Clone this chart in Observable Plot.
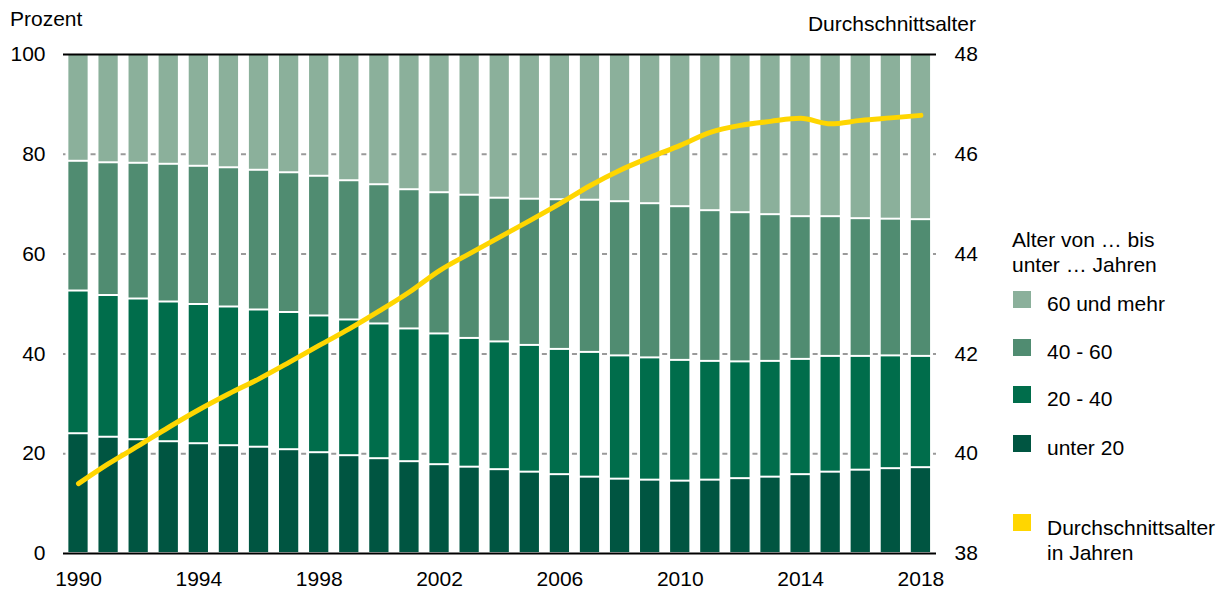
<!DOCTYPE html>
<html>
<head>
<meta charset="utf-8">
<script src="https://cdn.jsdelivr.net/npm/d3@7"></script>
<script src="https://cdn.jsdelivr.net/npm/@observablehq/plot@0.6"></script>
<style>
  html, body { margin: 0; padding: 0; background: white; }
  #wrap { position: relative; width: 1231px; height: 594px; font-family: "Liberation Sans", Arial, sans-serif; color: #000; }
  #wrap svg { position: absolute; left: 0; top: 0; }
  .t { position: absolute; font-size: 21px; line-height: 21px; white-space: nowrap; }
  .t2 { position: absolute; font-size: 21px; line-height: 25px; white-space: nowrap; }
  .sw { position: absolute; width: 18px; height: 17px; }
</style>
</head>
<body>
<div id="wrap"></div>
<script>
const years = [1990,1991,1992,1993,1994,1995,1996,1997,1998,1999,2000,2001,2002,2003,2004,2005,2006,2007,2008,2009,2010,2011,2012,2013,2014,2015,2016,2017,2018];
const unter20  = [24.0,23.3,22.8,22.4,22.0,21.6,21.3,20.8,20.2,19.6,19.0,18.4,17.8,17.3,16.8,16.3,15.8,15.3,14.9,14.7,14.5,14.7,15.0,15.3,15.8,16.3,16.7,17.0,17.2];
const von20bis40 = [28.6,28.4,28.2,28.0,27.9,27.8,27.5,27.5,27.4,27.2,27.0,26.6,26.2,25.8,25.6,25.4,25.1,25.0,24.7,24.5,24.2,23.8,23.4,23.2,23.1,23.2,22.8,22.6,22.3];
const von40bis60 = [26.0,26.6,27.2,27.6,27.7,27.9,28.0,28.0,28.0,27.9,27.9,27.9,28.3,28.7,28.8,29.3,30.0,30.5,30.9,30.9,30.8,30.2,29.9,29.4,28.6,28.0,27.6,27.4,27.4];
const ab60 = [21.4,21.7,21.8,22.0,22.4,22.7,23.2,23.7,24.4,25.3,26.1,27.1,27.7,28.2,28.8,29.0,29.1,29.2,29.5,29.9,30.5,31.3,31.7,32.1,32.5,32.5,32.9,33.0,33.1];
const durchschnittsalter = [39.40,39.80,40.16,40.53,40.88,41.20,41.50,41.83,42.17,42.50,42.86,43.24,43.67,44.01,44.34,44.67,45.01,45.37,45.68,45.94,46.18,46.44,46.58,46.66,46.72,46.61,46.68,46.73,46.78];

const groups = ["unter 20", "20 - 40", "40 - 60", "60 und mehr"];
const groupColors = ["#005541", "#006d4b", "#508c71", "#8bb09b"];
const lineColor = "#ffd600";
const leftTicks = [0, 20, 40, 60, 80, 100];
const rightTicks = [38, 40, 42, 44, 46, 48];
const xTicks = [1990, 1994, 1998, 2002, 2006, 2010, 2014, 2018];
const legendTitle = ["Alter von … bis", "unter … Jahren"];
const legendItems = ["60 und mehr", "40 - 60", "20 - 40", "unter 20"];
const lineLegend = ["Durchschnittsalter", "in Jahren"];

const seriesList = [unter20, von20bis40, von40bis60, ab60];
const table = years.flatMap((yr, i) => groups.map((g, k) => ({year: yr, group: g, value: seriesList[k][i]})));
const ageData = years.map((yr, i) => ({year: yr, age: durchschnittsalter[i]}));
const toPct = a => (a - 38) * 10;

const chart = Plot.plot({
  width: 1231,
  height: 594,
  marginTop: 54,
  marginBottom: 41,
  marginLeft: 63,
  marginRight: 295,
  style: {fontFamily: "'Liberation Sans', Arial, sans-serif", fontSize: "21px", color: "#000", background: "transparent"},
  x: {type: "band", domain: years, range: [57.54, 940.9], paddingInner: 0.36, paddingOuter: 0.36, round: false, label: null},
  y: {domain: [0, 100], label: null},
  color: {domain: groups, range: groupColors},
  marks: [
    Plot.ruleY([20, 40, 60, 80], {stroke: "#9a9a9a", strokeWidth: 2, strokeDasharray: "5 25.087", strokeDashoffset: 2.54}),
    Plot.barY(table, {x: "year", y: "value", fill: "group", order: groups, insetTop: 1, insetBottom: 1}),
    Plot.ruleY([0, 100], {stroke: "#000", strokeWidth: 2}),
    Plot.line(ageData, {x: "year", y: d => toPct(d.age), stroke: lineColor, strokeWidth: 5, curve: "monotone-x", strokeLinecap: "round", strokeLinejoin: "round"}),
    Plot.axisY({anchor: "left", ticks: leftTicks, tickSize: 0, tickPadding: 18, label: null, tickFormat: d => String(d)}),
    Plot.axisY({anchor: "right", ticks: rightTicks.map(toPct), tickSize: 0, tickPadding: 18, label: null, tickFormat: d => String(Math.round(d / 10 + 38))}),
    Plot.axisX({ticks: xTicks, tickSize: 0, tickPadding: 18, label: null, tickFormat: d => String(d)})
  ]
});

const wrap = document.getElementById("wrap");
wrap.appendChild(chart);

function addText(cls, text, left, top, align) {
  const el = document.createElement("div");
  el.className = cls;
  el.innerHTML = text;
  el.style.top = top + "px";
  if (align === "right") { el.style.right = (1231 - left) + "px"; el.style.textAlign = "right"; }
  else el.style.left = left + "px";
  wrap.appendChild(el);
}
addText("t", "Prozent", 10, 8.2);
addText("t", "Durchschnittsalter", 976, 12.5, "right");
addText("t2", legendTitle.join("<br>"), 1012, 227.2);

const swatchTops = [291, 339, 386, 435];
const legendColors = ["#8bb09b", "#508c71", "#006d4b", "#005541"];
legendItems.forEach((lab, i) => {
  const sw = document.createElement("div");
  sw.className = "sw";
  sw.style.left = "1013px";
  sw.style.top = swatchTops[i] + "px";
  sw.style.background = legendColors[i];
  wrap.appendChild(sw);
  addText("t", lab, 1047, swatchTops[i] + 1.9);
});
const sw = document.createElement("div");
sw.className = "sw";
sw.style.left = "1013px";
sw.style.top = "514px";
sw.style.background = lineColor;
wrap.appendChild(sw);
addText("t2", lineLegend.join("<br>"), 1047, 515.2);
</script>
</body>
</html>
